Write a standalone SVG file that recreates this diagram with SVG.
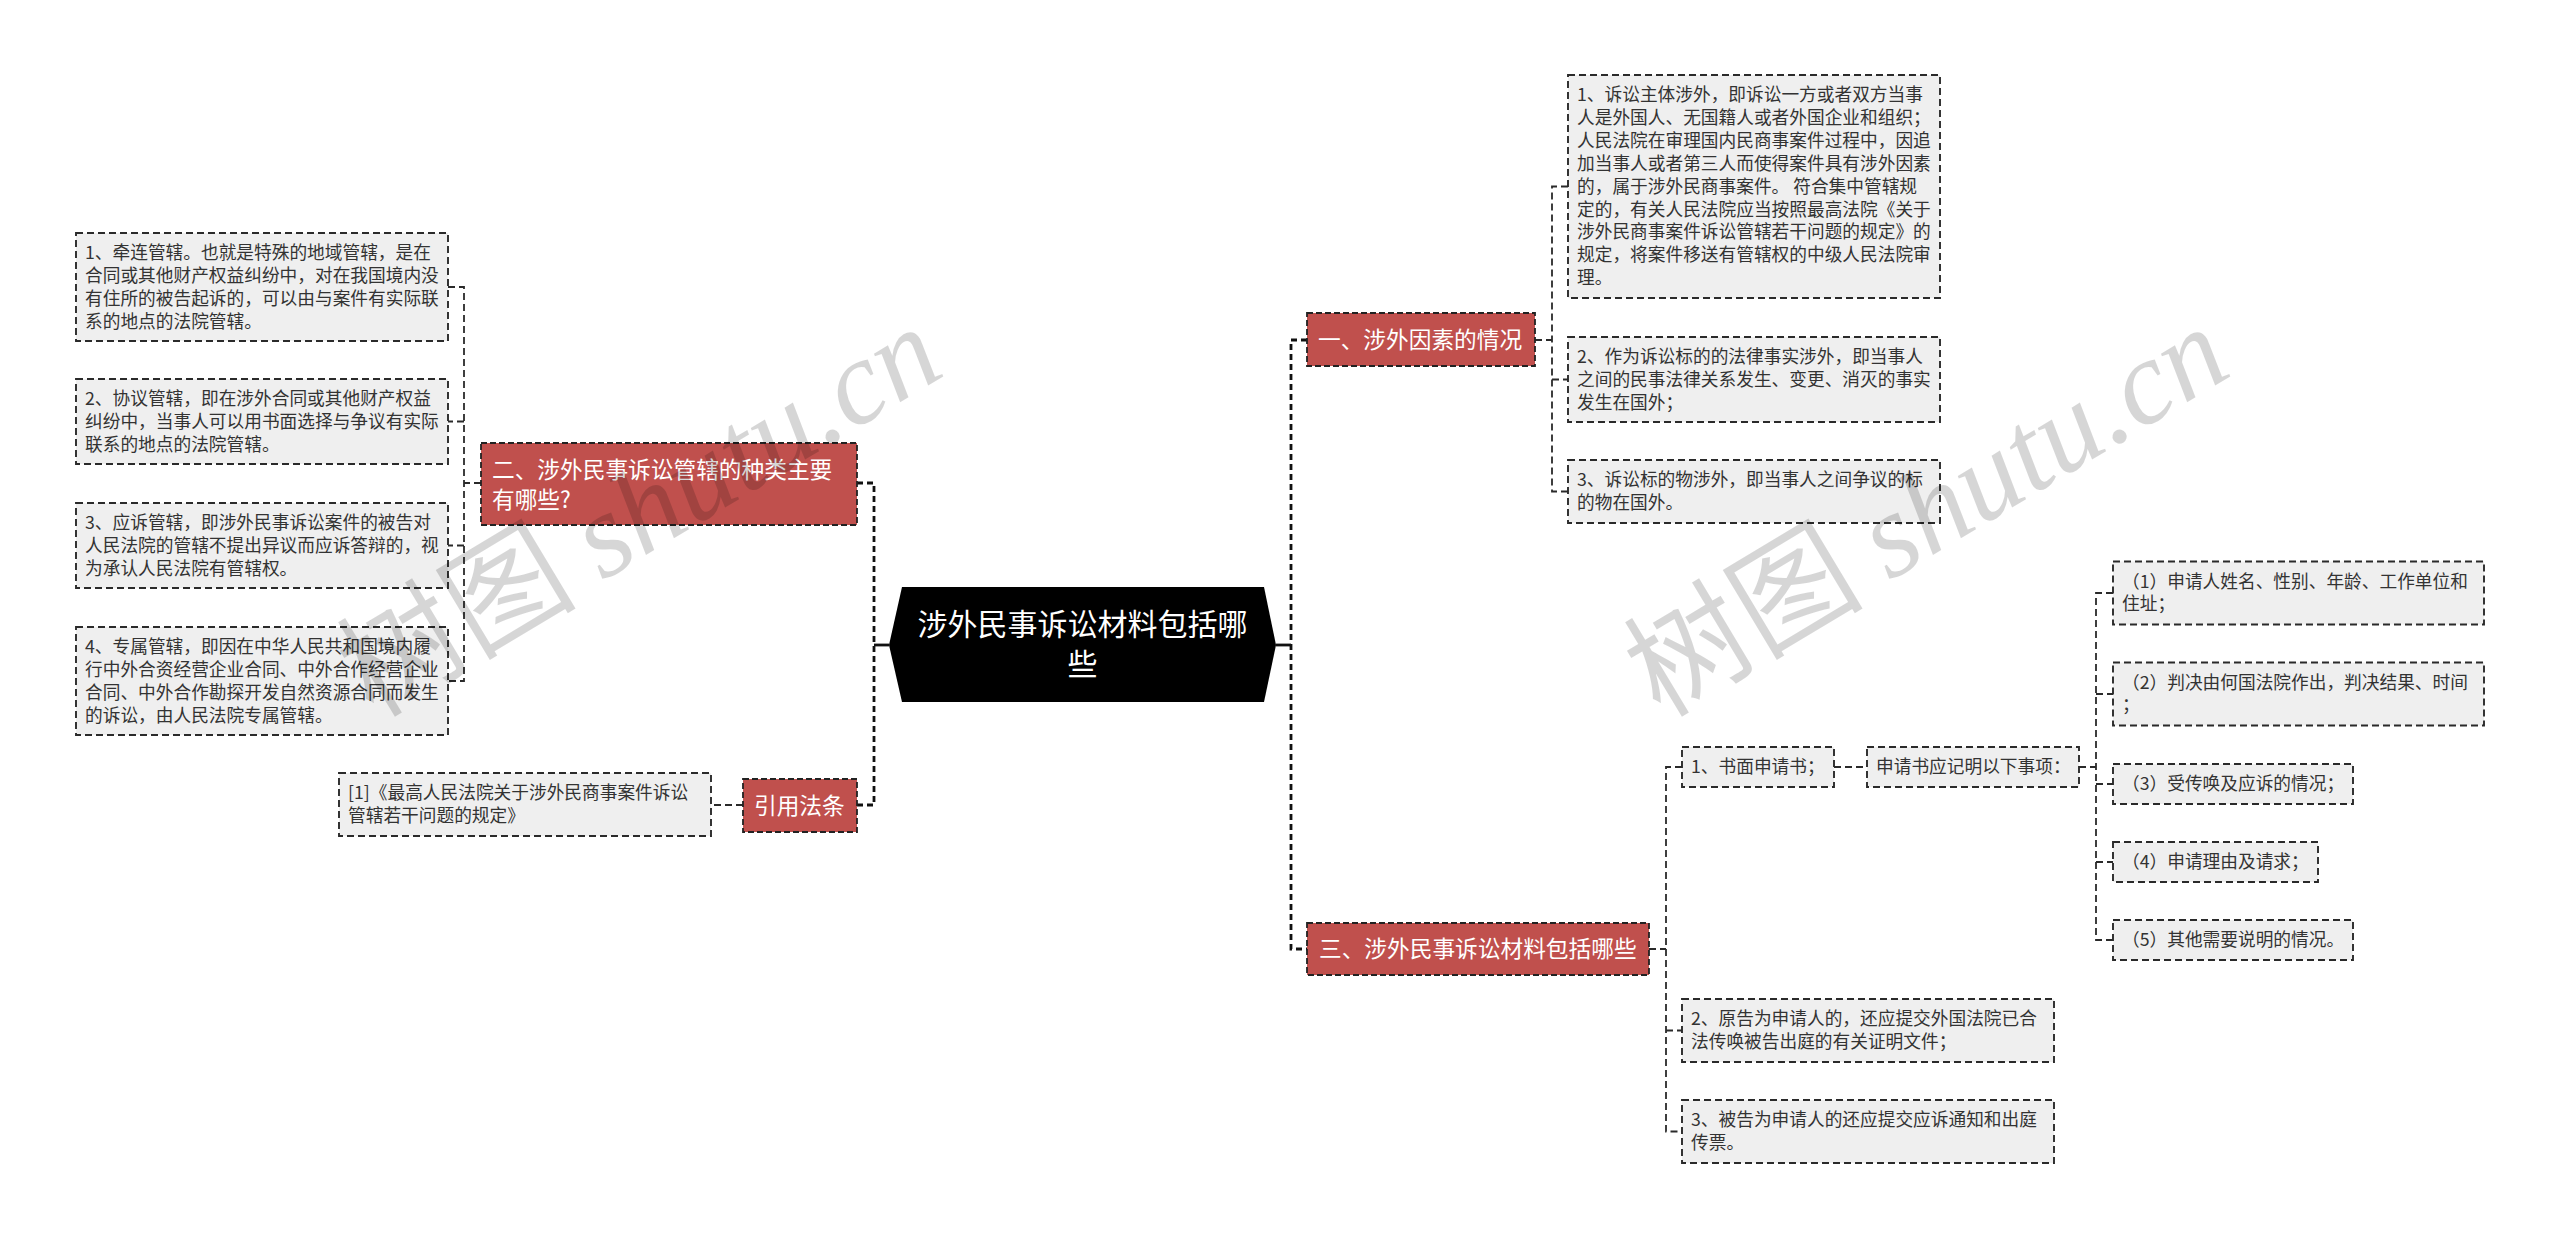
<svg xmlns="http://www.w3.org/2000/svg" width="2560" height="1239" viewBox="0 0 2560 1239">
<style>
.bg{fill:#ffffff}
.box{fill:#efefef;stroke:#2a2a2a;stroke-width:1.9;stroke-dasharray:7 4}
.bn{fill:#c0504d;stroke:#222;stroke-width:1.8;stroke-dasharray:6 3}
.conn{fill:none;stroke:#2a2a2a;stroke-width:1.8;stroke-dasharray:7 4}
.main{fill:none;stroke:#111;stroke-width:2.8;stroke-dasharray:6 4}
.solid{fill:none;stroke:#111;stroke-width:2.8}
.t{font-family:"Noto Sans CJK SC","Noto Sans",sans-serif;font-size:17.7px;fill:#333}
.bt{font-family:"Noto Sans CJK SC","Noto Sans",sans-serif;font-size:22.7px;fill:#ffffff}
.ct{font-family:"Noto Sans CJK SC","Noto Sans",sans-serif;font-size:30px;fill:#ffffff}
.wm{font-family:"Noto Sans CJK SC",sans-serif;font-size:120px;fill:#000;fill-opacity:0.16}
.wm2{font-family:"Liberation Serif",serif;font-style:italic}
</style>
<rect class="bg" x="0" y="0" width="2560" height="1239"/>

<g id="connectors">
  <path class="solid" d="M889,645 H874"/>
  <path class="main" d="M857,483 H874 V805 H857"/>
  <path class="solid" d="M1276,645 H1291"/>
  <path class="main" d="M1307,340 H1291 V949 H1307"/>
  <path class="conn" d="M1535,340 H1552"/>
  <path class="conn" d="M1568,186.5 H1552 V491.5 H1568 M1552,379.5 H1568"/>
  <path class="conn" d="M481,483 H464"/>
  <path class="conn" d="M448,287 H464 V681 H448 M464,421.5 H448 M464,545.5 H448"/>
  <path class="conn" d="M743,805 H711"/>
  <path class="conn" d="M1649,949 H1666"/>
  <path class="conn" d="M1682,767 H1666 V1131.5 H1682 M1666,1030.5 H1682"/>
  <path class="conn" d="M1834,767 H1867"/>
  <path class="conn" d="M2079,767 H2096"/>
  <path class="conn" d="M2113,593 H2096 V940 H2113 M2096,694 H2113 M2096,784 H2113 M2096,862 H2113"/>
</g>

<g id="center">
  <polygon points="902,587 1264,587 1276,645 1264,702 902,702 889,645" fill="#000"/>
  <text class="ct" x="1082.5" y="634.5" text-anchor="middle">涉外民事诉讼材料包括哪</text>
  <text class="ct" x="1082.5" y="674.5" text-anchor="middle">些</text>
</g>

<g id="b1">
  <rect class="bn" x="1307" y="313" width="228" height="53"/>
  <text class="bt" x="1318" y="347.5">一、涉外因素的情况</text>
</g>
<g id="b2">
  <rect class="bn" x="481" y="443" width="376" height="82"/>
  <text class="bt" x="492" y="478">二、涉外民事诉讼管辖的种类主要</text>
  <text class="bt" x="492" y="508">有哪些?</text>
</g>
<g id="b3">
  <rect class="bn" x="743" y="779" width="114" height="53"/>
  <text class="bt" x="754" y="813.5">引用法条</text>
</g>
<g id="b4">
  <rect class="bn" x="1307" y="923" width="342" height="52"/>
  <text class="bt" x="1319" y="957">三、涉外民事诉讼材料包括哪些</text>
</g>

<g id="r1">
  <rect class="box" x="1568" y="75" width="372" height="223"/>
  <text class="t" x="1577" y="101">1、诉讼主体涉外，即诉讼一方或者双方当事</text>
  <text class="t" x="1577" y="123.9">人是外国人、无国籍人或者外国企业和组织；</text>
  <text class="t" x="1577" y="146.8">人民法院在审理国内民商事案件过程中，因追</text>
  <text class="t" x="1577" y="169.7">加当事人或者第三人而使得案件具有涉外因素</text>
  <text class="t" x="1577" y="192.6">的，属于涉外民商事案件。 符合集中管辖规</text>
  <text class="t" x="1577" y="215.5">定的，有关人民法院应当按照最高法院《关于</text>
  <text class="t" x="1577" y="238.4">涉外民商事案件诉讼管辖若干问题的规定》的</text>
  <text class="t" x="1577" y="261.3">规定，将案件移送有管辖权的中级人民法院审</text>
  <text class="t" x="1577" y="284.2">理。</text>
</g>
<g id="r2">
  <rect class="box" x="1568" y="337" width="372" height="85"/>
  <text class="t" x="1577" y="363">2、作为诉讼标的的法律事实涉外，即当事人</text>
  <text class="t" x="1577" y="385.9">之间的民事法律关系发生、变更、消灭的事实</text>
  <text class="t" x="1577" y="408.8">发生在国外；</text>
</g>
<g id="r3">
  <rect class="box" x="1568" y="460" width="372" height="63"/>
  <text class="t" x="1577" y="486">3、诉讼标的物涉外，即当事人之间争议的标</text>
  <text class="t" x="1577" y="508.9">的物在国外。</text>
</g>

<g id="l1">
  <rect class="box" x="76" y="233" width="372" height="108"/>
  <text class="t" x="85" y="259">1、牵连管辖。也就是特殊的地域管辖，是在</text>
  <text class="t" x="85" y="281.9">合同或其他财产权益纠纷中，对在我国境内没</text>
  <text class="t" x="85" y="304.8">有住所的被告起诉的，可以由与案件有实际联</text>
  <text class="t" x="85" y="327.7">系的地点的法院管辖。</text>
</g>
<g id="l2">
  <rect class="box" x="76" y="379" width="372" height="85"/>
  <text class="t" x="85" y="405">2、协议管辖，即在涉外合同或其他财产权益</text>
  <text class="t" x="85" y="427.9">纠纷中，当事人可以用书面选择与争议有实际</text>
  <text class="t" x="85" y="450.8">联系的地点的法院管辖。</text>
</g>
<g id="l3">
  <rect class="box" x="76" y="503" width="372" height="85"/>
  <text class="t" x="85" y="529">3、应诉管辖，即涉外民事诉讼案件的被告对</text>
  <text class="t" x="85" y="551.9">人民法院的管辖不提出异议而应诉答辩的，视</text>
  <text class="t" x="85" y="574.8">为承认人民法院有管辖权。</text>
</g>
<g id="l4">
  <rect class="box" x="76" y="627" width="372" height="108"/>
  <text class="t" x="85" y="653">4、专属管辖，即因在中华人民共和国境内履</text>
  <text class="t" x="85" y="675.9">行中外合资经营企业合同、中外合作经营企业</text>
  <text class="t" x="85" y="698.8">合同、中外合作勘探开发自然资源合同而发生</text>
  <text class="t" x="85" y="721.7">的诉讼，由人民法院专属管辖。</text>
</g>
<g id="ref">
  <rect class="box" x="339" y="773" width="372" height="63"/>
  <text class="t" x="348" y="799">[1]《最高人民法院关于涉外民商事案件诉讼</text>
  <text class="t" x="348" y="821.9">管辖若干问题的规定》</text>
</g>

<g id="a1">
  <rect class="box" x="1682" y="747" width="152" height="40"/>
  <text class="t" x="1691" y="773">1、书面申请书；</text>
</g>
<g id="a1b">
  <rect class="box" x="1867" y="747" width="212" height="40"/>
  <text class="t" x="1876" y="773">申请书应记明以下事项：</text>
</g>
<g id="a2">
  <rect class="box" x="1682" y="999" width="372" height="63"/>
  <text class="t" x="1691" y="1025">2、原告为申请人的，还应提交外国法院已合</text>
  <text class="t" x="1691" y="1047.9">法传唤被告出庭的有关证明文件；</text>
</g>
<g id="a3">
  <rect class="box" x="1682" y="1100" width="372" height="63"/>
  <text class="t" x="1691" y="1126">3、被告为申请人的还应提交应诉通知和出庭</text>
  <text class="t" x="1691" y="1148.9">传票。</text>
</g>

<g id="i1">
  <rect class="box" x="2113" y="561.5" width="371" height="63"/>
  <text class="t" x="2122" y="587.5">（1）申请人姓名、性别、年龄、工作单位和</text>
  <text class="t" x="2122" y="610.4">住址；</text>
</g>
<g id="i2">
  <rect class="box" x="2113" y="662.5" width="371" height="63"/>
  <text class="t" x="2122" y="688.5">（2）判决由何国法院作出，判决结果、时间</text>
  <text class="t" x="2122" y="711.4">；</text>
</g>
<g id="i3">
  <rect class="box" x="2113" y="764" width="240" height="40"/>
  <text class="t" x="2122" y="790">（3）受传唤及应诉的情况；</text>
</g>
<g id="i4">
  <rect class="box" x="2113" y="842" width="205" height="40"/>
  <text class="t" x="2122" y="868">（4）申请理由及请求；</text>
</g>
<g id="i5">
  <rect class="box" x="2113" y="920" width="240" height="40"/>
  <text class="t" x="2122" y="946">（5）其他需要说明的情况。</text>
</g>

<g id="watermarks">
  <text class="wm" transform="translate(640,512) rotate(-31)" x="0" y="40" text-anchor="middle">树图 <tspan class="wm2">shutu.cn</tspan></text>
  <text class="wm" transform="translate(1927,512) rotate(-31)" x="0" y="40" text-anchor="middle">树图 <tspan class="wm2">shutu.cn</tspan></text>
</g>
</svg>
